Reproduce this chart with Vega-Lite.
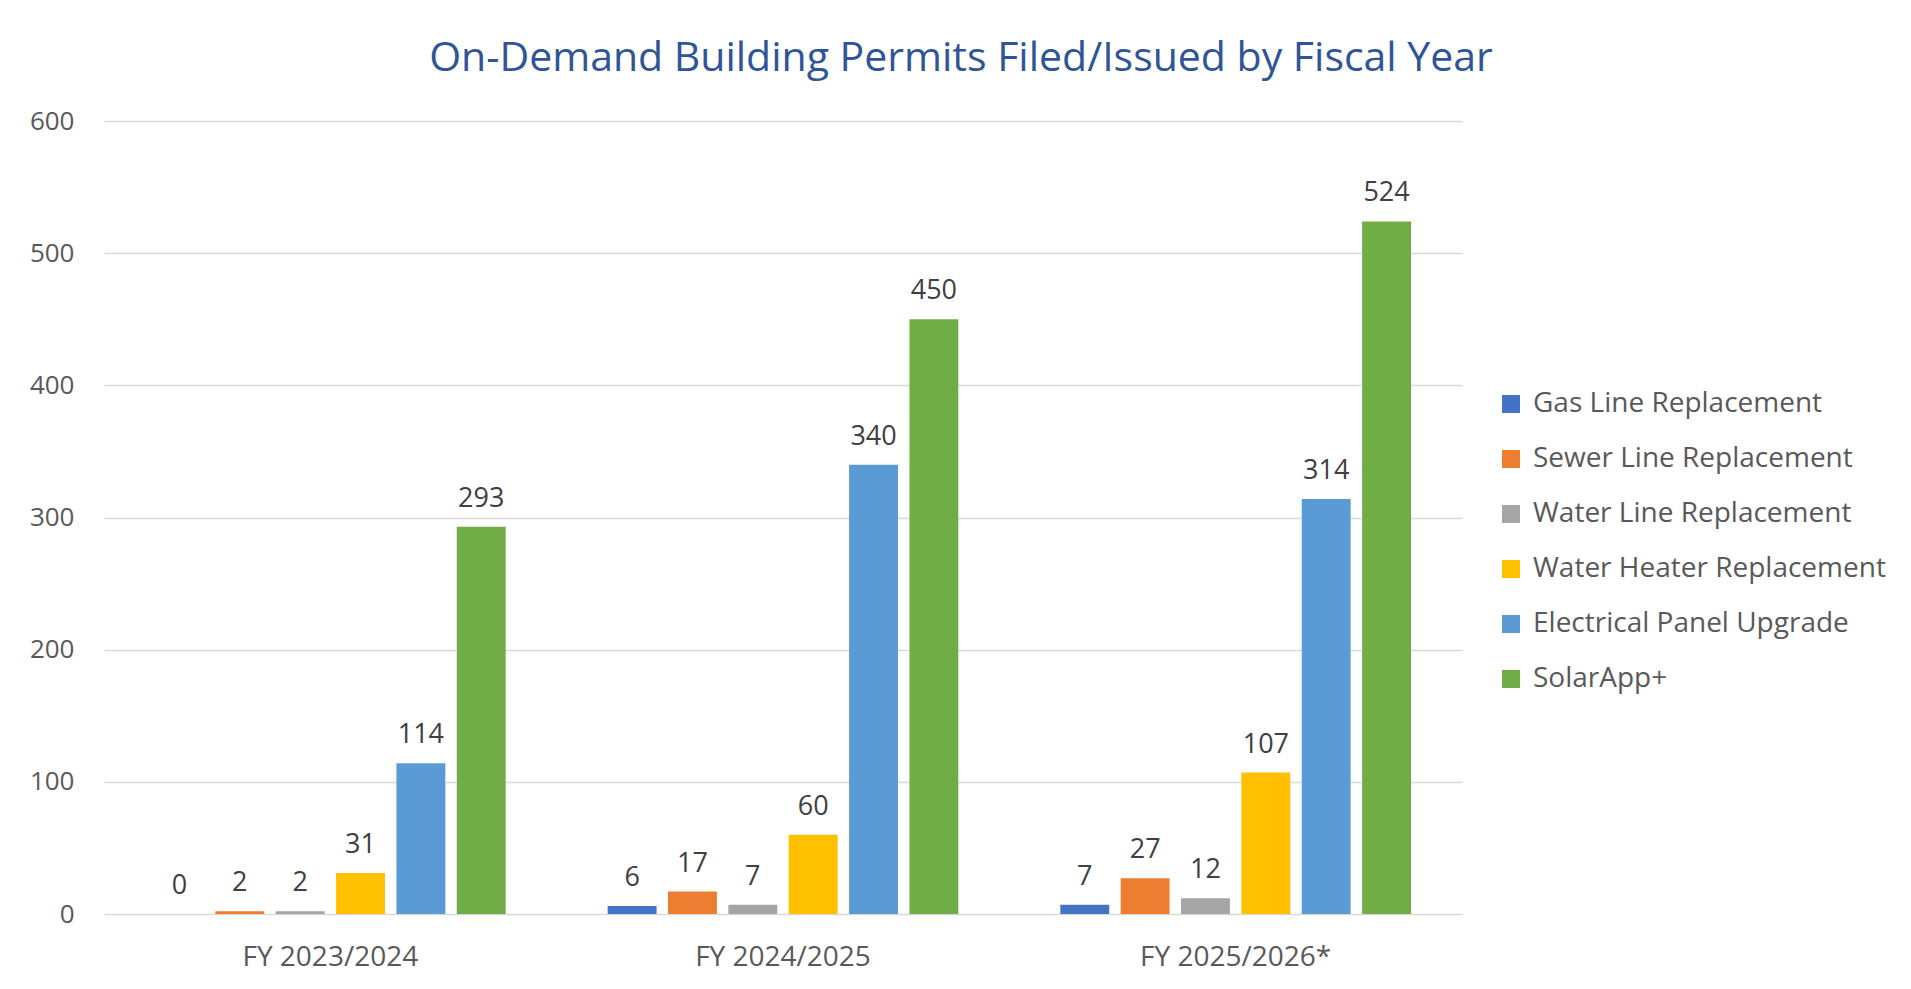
{
  "$schema": "https://vega.github.io/schema/vega-lite/v6.json",
  "width": 1358,
  "height": 793,
  "autosize": {"type": "none"},
  "padding": {"left": 104, "top": 121, "right": 449, "bottom": 75},
  "background": "white",
  "config": {
    "view": {"stroke": null},
    "font": "Open Sans"
  },
  "title": {
    "text": "On-Demand Building Permits Filed/Issued by Fiscal Year",
    "font": "Open Sans",
    "fontSize": 41,
    "fontWeight": "normal",
    "color": "#2F5597",
    "anchor": "middle",
    "frame": "group",
    "baseline": "alphabetic",
    "dx": 178,
    "offset": -4
  },
  "data": {
    "values": [
      {"year": "FY 2023/2024", "type": "Gas Line Replacement", "count": 0},
      {"year": "FY 2023/2024", "type": "Sewer Line Replacement", "count": 2},
      {"year": "FY 2023/2024", "type": "Water Line Replacement", "count": 2},
      {"year": "FY 2023/2024", "type": "Water Heater Replacement", "count": 31},
      {"year": "FY 2023/2024", "type": "Electrical Panel Upgrade", "count": 114},
      {"year": "FY 2023/2024", "type": "SolarApp+", "count": 293},
      {"year": "FY 2024/2025", "type": "Gas Line Replacement", "count": 6},
      {"year": "FY 2024/2025", "type": "Sewer Line Replacement", "count": 17},
      {"year": "FY 2024/2025", "type": "Water Line Replacement", "count": 7},
      {"year": "FY 2024/2025", "type": "Water Heater Replacement", "count": 60},
      {"year": "FY 2024/2025", "type": "Electrical Panel Upgrade", "count": 340},
      {"year": "FY 2024/2025", "type": "SolarApp+", "count": 450},
      {"year": "FY 2025/2026*", "type": "Gas Line Replacement", "count": 7},
      {"year": "FY 2025/2026*", "type": "Sewer Line Replacement", "count": 27},
      {"year": "FY 2025/2026*", "type": "Water Line Replacement", "count": 12},
      {"year": "FY 2025/2026*", "type": "Water Heater Replacement", "count": 107},
      {"year": "FY 2025/2026*", "type": "Electrical Panel Upgrade", "count": 314},
      {"year": "FY 2025/2026*", "type": "SolarApp+", "count": 524}
    ]
  },
  "encoding": {
    "x": {
      "field": "year",
      "type": "nominal",
      "sort": null,
      "scale": {"paddingInner": 0.2, "paddingOuter": 0.1},
      "axis": {
        "title": null,
        "labelAngle": 0,
        "labelFontSize": 28,
        "labelColor": "#595959",
        "labelPadding": 29,
        "labelLimit": 400,
        "ticks": false,
        "domain": false
      }
    },
    "xOffset": {
      "field": "type",
      "type": "nominal",
      "sort": ["Gas Line Replacement", "Sewer Line Replacement", "Water Line Replacement", "Water Heater Replacement", "Electrical Panel Upgrade", "SolarApp+"],
      "scale": {"paddingInner": 0.19, "paddingOuter": 0.095}
    },
    "y": {
      "field": "count",
      "type": "quantitative",
      "scale": {"domain": [0, 600]},
      "axis": {
        "title": null,
        "values": [0, 100, 200, 300, 400, 500, 600],
        "labelFontSize": 26,
        "labelColor": "#595959",
        "labelPadding": 30,
        "ticks": false,
        "domain": false,
        "gridColor": "#D9D9D9",
        "gridWidth": 1.5
      }
    }
  },
  "layer": [
    {
      "mark": {"type": "bar"},
      "encoding": {
        "color": {
          "field": "type",
          "type": "nominal",
          "sort": ["Gas Line Replacement", "Sewer Line Replacement", "Water Line Replacement", "Water Heater Replacement", "Electrical Panel Upgrade", "SolarApp+"],
          "scale": {
            "domain": ["Gas Line Replacement", "Sewer Line Replacement", "Water Line Replacement", "Water Heater Replacement", "Electrical Panel Upgrade", "SolarApp+"],
            "range": ["#4472C4", "#ED7D31", "#A5A5A5", "#FFC000", "#5B9BD5", "#70AD47"]
          },
          "legend": {
            "title": null,
            "orient": "none",
            "legendX": 1393,
            "legendY": 269,
            "symbolType": "square",
            "symbolSize": 324,
            "symbolStrokeWidth": 0,
            "labelFontSize": 28,
            "labelColor": "#595959",
            "labelOffset": 8,
            "rowPadding": 27,
            "labelLimit": 500
          }
        }
      }
    },
    {
      "mark": {"type": "text", "baseline": "bottom", "dy": -14, "fontSize": 27, "color": "#404040"},
      "encoding": {
        "text": {"field": "count", "type": "quantitative"}
      }
    }
  ]
}
